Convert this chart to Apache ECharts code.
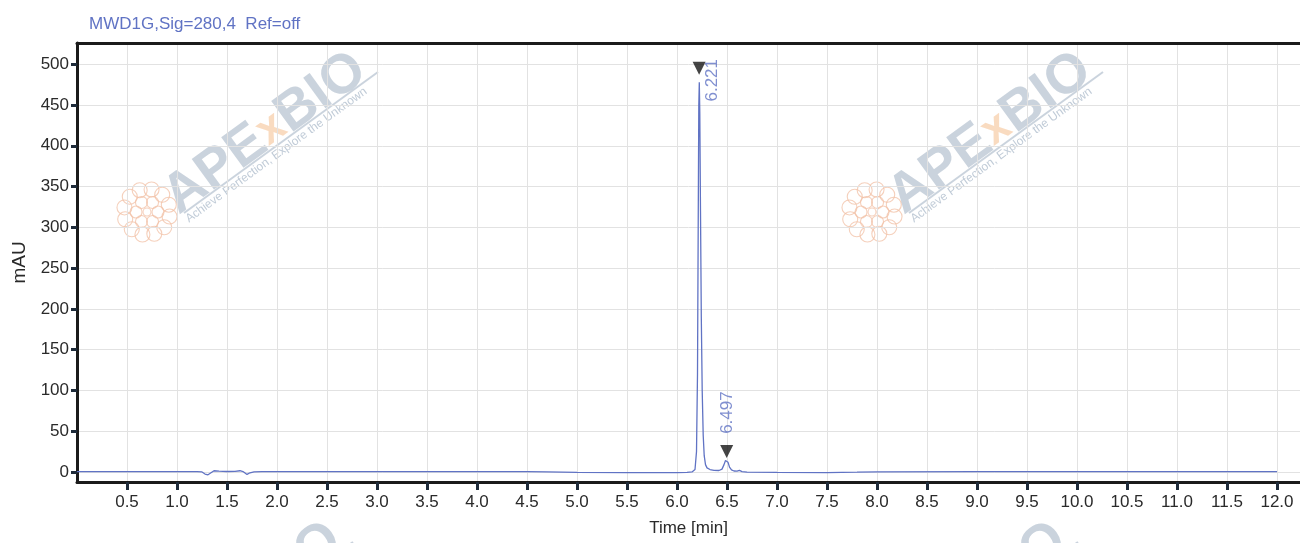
<!DOCTYPE html>
<html><head><meta charset="utf-8">
<script src="https://cdn.jsdelivr.net/npm/echarts@6/dist/echarts.min.js"></script>
<style>html,body{margin:0;padding:0;background:#fff}#c{width:1300px;height:543px}</style>
</head><body><div id="c"></div>
<script>
// ---- data ----
const timeMin = [0.00,0.50,1.00,1.20,1.25,1.28,1.31,1.34,1.37,1.42,1.50,1.58,1.63,1.66,1.70,1.73,1.77,1.85,2.00,2.50,3.00,3.50,4.00,4.50,4.70,5.00,5.50,6.00,6.10,6.15,6.18,6.195,6.205,6.212,6.218,6.223,6.228,6.235,6.243,6.252,6.262,6.272,6.285,6.30,6.33,6.37,6.42,6.45,6.47,6.485,6.497,6.51,6.525,6.545,6.57,6.60,6.625,6.65,6.70,7.00,7.50,7.80,8.00,9.00,10.00,11.00,12.00];
const mAU     = [0.5, 0.5, 0.5, 0.4, 0.0,-2.5,-3.5,-1.0, 1.5, 1.0, 0.6, 0.8, 1.5, 0.5,-3.0,-1.0, 0.0, 0.3, 0.4, 0.5, 0.5, 0.4, 0.4, 0.4, 0.0,-0.5,-0.7,-0.8,-0.6, 0.0, 3.0, 25, 120, 300, 450, 478, 440, 320, 190, 100, 45, 20, 9, 5, 3, 2, 1.8, 3.5, 9, 14, 16, 12, 6, 2.5, 1.2, 1.0, 2.0, 0.5,-0.3,-0.6,-0.8,-0.3, 0.2, 0.3, 0.3, 0.3, 0.3];
const peakTimes  = [6.221, 6.497];
const peakLabels = ['6.221', '6.497'];
const peakMarkY  = [495, 25];
const xTicks = [0.5,1.0,1.5,2.0,2.5,3.0,3.5,4.0,4.5,5.0,5.5,6.0,6.5,7.0,7.5,8.0,8.5,9.0,9.5,10.0,10.5,11.0,11.5,12.0];
const yTicks = [0,50,100,150,200,250,300,350,400,450,500];
const titleText = 'MWD1G,Sig=280,4  Ref=off';
const xName = 'Time [min]';
const yName = 'mAU';
const wmText = 'Achieve Perfection, Explore the Unknown';

// ---- styling / layout ----
const FONT = '"Liberation Sans", Arial, sans-serif';
const BLUE = '#6073c4';
const AXIS = '#1e2b3a';
// label offsets are given in the rotated label frame
const peakLabelOffset = [[-12, 13], [39, 1]];

const lineData = timeMin.map((t, i) => [t, mAU[i]]);
const markData = peakTimes.map((t, i) => ({
  name: peakLabels[i],
  value: [t, peakMarkY[i]],
  label: { offset: peakLabelOffset[i] }
}));

function watermark(dx, dy) {
  const rot = 36 * Math.PI / 180;
  const petals = [];
  const cx = 147 + dx, cy = 212 + dy;
  const st = { fill: 'none', stroke: '#f1c0a6', lineWidth: 1.1, opacity: 0.75 };
  petals.push({ type: 'circle', shape: { cx, cy, r: 4 }, style: st, silent: true });
  for (let k = 0; k < 6; k++) {
    const a = k * Math.PI / 3;
    petals.push({ type: 'circle', shape: { cx: cx + 11 * Math.cos(a), cy: cy + 11 * Math.sin(a), r: 6 }, style: st, silent: true });
  }
  for (let k = 0; k < 12; k++) {
    const a = k * 2 * Math.PI / 12 + 0.2;
    petals.push({ type: 'circle', shape: { cx: cx + 23 * Math.cos(a), cy: cy + 23 * Math.sin(a), r: 7.5 }, style: st, silent: true });
  }
  return [
    ...petals,
    { type: 'text', x: 186 + dx, y: 225 + dy, rotation: rot, silent: true,
      style: { text: '{a|APE}{x|x}{a|BIO}', align: 'left', verticalAlign: 'bottom',
        rich: {
          a: { fontSize: 55, fontWeight: 'bold', fontFamily: FONT, fill: 'rgba(150,168,188,0.5)' },
          x: { fontSize: 45, fontWeight: 'bold', fontFamily: FONT, fill: 'rgba(244,190,140,0.55)' }
        } } },
    { type: 'line', silent: true,
      shape: { x1: 184 + dx, y1: 213 + dy, x2: 378 + dx, y2: 72 + dy },
      style: { stroke: 'rgba(150,168,188,0.5)', lineWidth: 2 } },
    { type: 'text', x: 187 + dx, y: 220 + dy, rotation: rot, silent: true,
      style: { text: wmText, align: 'left', verticalAlign: 'middle', fontSize: 12, fontFamily: FONT,
        fill: 'rgba(150,168,188,0.6)' } }
  ];
}

const chart = echarts.init(document.getElementById('c'), null, { renderer: 'canvas' });
chart.setOption({
  backgroundColor: '#fff',
  animation: false,
  title: { text: titleText, left: 84, top: 11,
    textStyle: { color: BLUE, fontSize: 17, fontWeight: 'normal', fontFamily: FONT } },
  graphic: { elements: [
    { type: 'group', z: -1, children: [
      ...watermark(0, 0), ...watermark(725, 0), ...watermark(-25, 470), ...watermark(700, 470)
    ] }
  ] },
  grid: { left: 77, right: 0, top: 43, bottom: 61, containLabel: false },
  xAxis: [{
    type: 'value', min: 0, max: 12.23, position: 'bottom',
    name: xName, nameLocation: 'middle', nameGap: 38,
    nameTextStyle: { color: '#2a2a2a', fontSize: 17, fontFamily: FONT },
    axisLine: { show: true, onZero: false, lineStyle: { color: '#1b1b1b', width: 3 } },
    axisTick: { show: true, customValues: xTicks, length: 8, lineStyle: { color: AXIS, width: 3 } },
    axisLabel: { customValues: xTicks, margin: 12, color: '#2a2a2a', fontSize: 17, fontFamily: FONT,
      formatter: v => v.toFixed(1) },
    splitLine: { show: true, lineStyle: { color: '#e2e2e2', width: 1 } }
  }, {
    type: 'value', min: 0, max: 12.23, position: 'top',
    axisLine: { show: true, onZero: false, lineStyle: { color: '#1b1b1b', width: 3 } },
    axisTick: { show: false }, axisLabel: { show: false }, splitLine: { show: false }
  }],
  yAxis: {
    type: 'value', min: -12.3, max: 526,
    name: yName, nameLocation: 'middle', nameGap: 48, nameRotate: 90,
    nameTextStyle: { color: '#2a2a2a', fontSize: 19, fontFamily: FONT },
    axisLine: { show: true, onZero: false, lineStyle: { color: '#1b1b1b', width: 3 } },
    axisTick: { show: true, customValues: yTicks, length: 6, lineStyle: { color: AXIS, width: 3 } },
    axisLabel: { customValues: yTicks, margin: 8, color: '#2a2a2a', fontSize: 17, fontFamily: FONT },
    splitLine: { show: true, lineStyle: { color: '#e2e2e2', width: 1 } }
  },
  series: [{
    type: 'line', data: lineData, showSymbol: false, symbol: 'none', smooth: false,
    lineStyle: { color: BLUE, width: 1.3 }, z: 3
  }, {
    type: 'scatter', data: markData, symbol: 'triangle', symbolRotate: 180, symbolSize: [13, 13],
    itemStyle: { color: '#151515' }, z: 4,
    label: { show: true, formatter: p => p.name, rotate: 90, position: 'inside',
      color: BLUE, fontSize: 17, fontFamily: FONT, align: 'center', verticalAlign: 'middle' }
  }]
});
</script></body></html>
